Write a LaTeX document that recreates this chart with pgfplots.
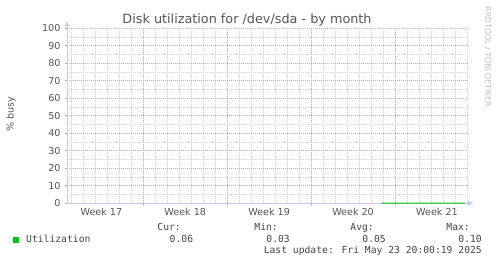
\documentclass[border=0pt]{standalone}
\usepackage{pgfplots}
\pgfplotsset{compat=1.18}
\usepackage{fontspec}
\setmainfont{DejaVu Sans}
\newfontfamily\monofont{DejaVu Sans Mono}
\usetikzlibrary{arrows.meta}
\definecolor{txt}{HTML}{555555}
\definecolor{legtxt}{HTML}{444444}
\definecolor{mgrid}{RGB}{240,150,150}
\definecolor{sgrid}{RGB}{210,210,210}
\definecolor{axcol}{RGB}{200,200,250}
\definecolor{util}{HTML}{00CC00}
\begin{document}
\begin{tikzpicture}[x=1pt,y=1pt]
\path[use as bounding box] (-67,-60.7) rectangle (430,203.3);
\begin{axis}[
  scale only axis,
  width=401pt, height=175pt,
  xmin=-6.366, xmax=27.09,
  ymin=0, ymax=100,
  axis x line=bottom, axis y line=left,
  x axis line style={draw=axcol, line width=0.8pt, -{Triangle[length=5pt,width=5pt]}, shorten >=-5pt},
  y axis line style={draw=axcol, line width=0.8pt, -{Triangle[length=5pt,width=5pt]}, shorten >=-7pt},
  xtick={0,7,14,21},
  xticklabels={},
  minor xtick={-6,-5,-4,-3,-2,-1,1,2,3,4,5,6,8,9,10,11,12,13,15,16,17,18,19,20,22,23,24,25,26,27},
  extra x ticks={-3.5,3.5,10.5,17.5,24.5},
  extra x tick labels={Week 17,Week 18,Week 19,Week 20,Week 21},
  extra x tick style={grid=none, major tick length=0pt},
  ytick={0,10,...,100},
  minor y tick num=1,
  grid=both,
  grid style={color=sgrid, line width=0.45pt, dash pattern=on 1pt off 1pt},
  major grid style={color=mgrid, line width=0.6pt, dash pattern=on 1pt off 1pt},
  minor grid style={color=sgrid, line width=0.45pt, dash pattern=on 1pt off 1pt},
  tick align=outside,
  major tick length=2pt, minor tick length=0pt,
  tick style={color=mgrid, line width=0.6pt},
  /pgf/number format/assume math mode=true,
  ticklabel style={font=\fontsize{9.6}{11}\selectfont, text=txt},
  yticklabel style={xshift=-1pt},
  xticklabel style={yshift=-1pt},
  axis on top=false,
  clip=false,
]
\addplot[draw=util, line width=1pt, no markers] coordinates {
(19.88,0.05) (20.3,0.04) (20.8,0.06) (21.3,0.05) (21.8,0.03) (22.3,0.05)
(22.8,0.10) (23.3,0.05) (23.8,0.04) (24.3,0.05) (24.8,0.06) (25.3,0.05)
(25.8,0.04) (26.3,0.05) (26.83,0.06)
};
\end{axis}
\node[anchor=base, text=txt, font=\fontsize{12.8}{14}\selectfont] at (180,179.3) {Disk utilization for /dev/sda - by month};
\node[rotate=90, text=txt, font=\fontsize{9.6}{11}\selectfont] at (-56,89.3) {\% busy};
\node[rotate=-90, text=black!25, font=\fontsize{7.8}{9}\selectfont] at (421,146.3) {RRDTOOL / TOBI OETIKER};
\fill[util] (-53.5,-39.7) rectangle (-47.5,-33.7);
\begin{scope}[every node/.style={inner sep=0pt, text=legtxt, font=\monofont\fontsize{9.7}{11}\selectfont}]
\node[anchor=base west] at (-41,-39.4) {Utilization};
\node[anchor=base east] at (114,-27.7) {Cur:};
\node[anchor=base east] at (126.3,-39.4) {0.06};
\node[anchor=base east] at (211,-27.7) {Min:};
\node[anchor=base east] at (223,-39.4) {0.03};
\node[anchor=base east] at (307,-27.7) {Avg:};
\node[anchor=base east] at (319,-39.4) {0.05};
\node[anchor=base east] at (403,-27.7) {Max:};
\node[anchor=base east] at (415,-39.4) {0.10};
\node[anchor=base east] at (415,-50.7) {Last update: Fri May 23 20:00:19 2025};
\end{scope}
\end{tikzpicture}
\end{document}
